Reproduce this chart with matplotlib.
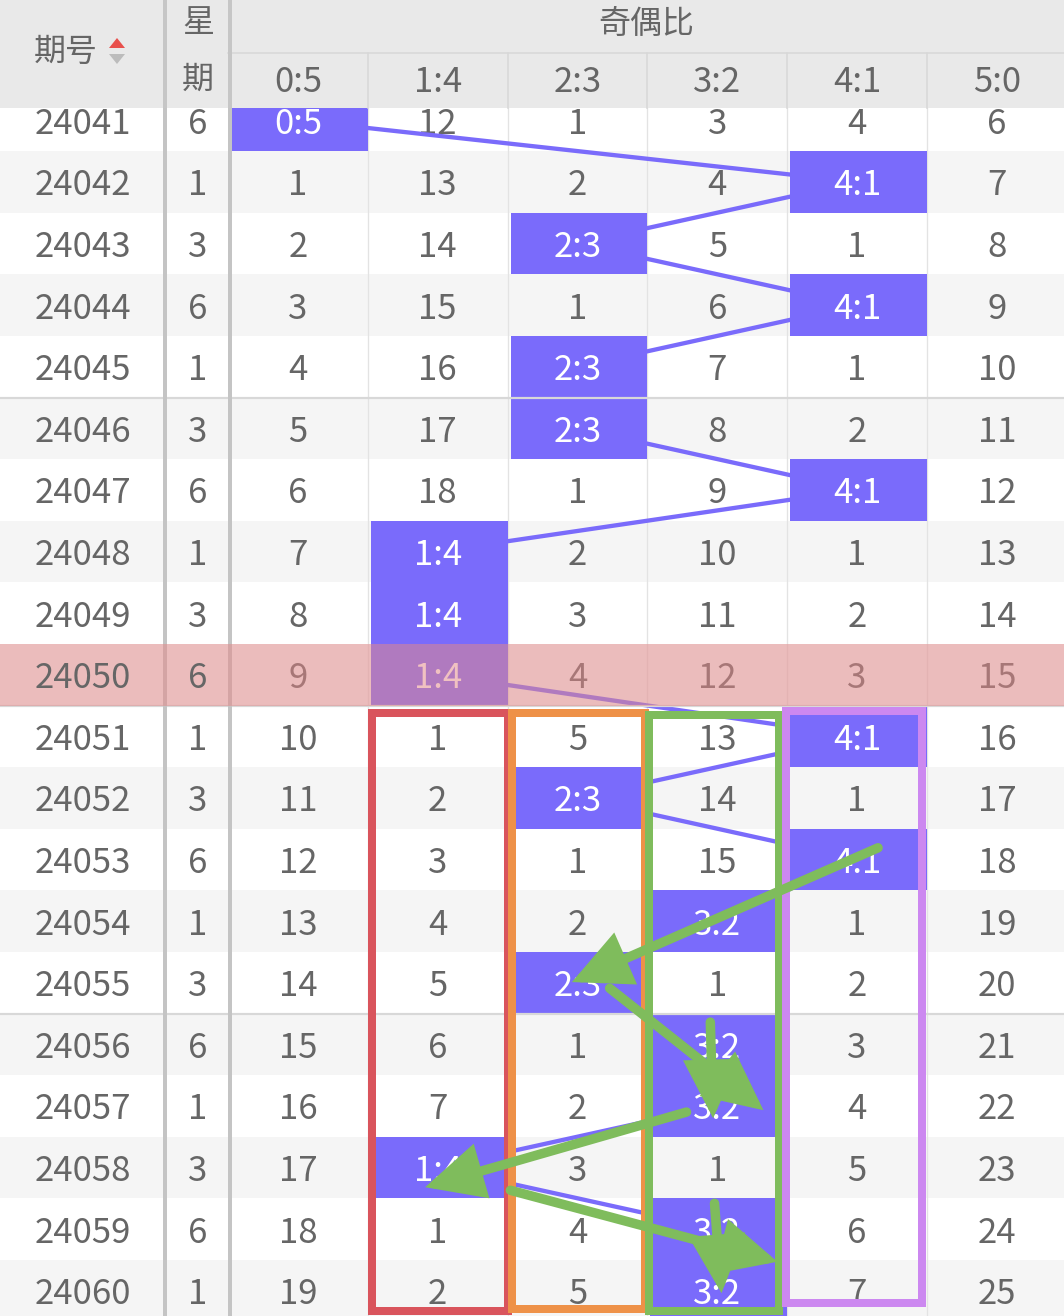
import matplotlib
matplotlib.use('Agg')
import matplotlib.pyplot as plt
from matplotlib.patches import Rectangle, Polygon, FancyArrowPatch, ArrowStyle

plt.rcParams['font.family'] = ['Noto Sans CJK SC', 'DejaVu Sans']
plt.rcParams['font.weight'] = 'light'

# ---------------- data ----------------
issues = [24041, 24042, 24043, 24044, 24045, 24046, 24047, 24048, 24049, 24050,
          24051, 24052, 24053, 24054, 24055, 24056, 24057, 24058, 24059, 24060]
weekdays = [6, 1, 3, 6, 1, 3, 6, 1, 3, 6, 1, 3, 6, 1, 3, 6, 1, 3, 6, 1]
ratios = ['0:5', '1:4', '2:3', '3:2', '4:1', '5:0']
# index of the ratio column that was hit in each issue
hits = [0, 4, 2, 4, 2, 2, 4, 1, 1, 1, 4, 2, 4, 3, 2, 3, 3, 1, 3, 3]
# omission counts per column (None = hit)
miss_05 = [None, 1, 2, 3, 4, 5, 6, 7, 8, 9, 10, 11, 12, 13, 14, 15, 16, 17, 18, 19]
miss_14 = [12, 13, 14, 15, 16, 17, 18, None, None, None, 1, 2, 3, 4, 5, 6, 7, None, 1, 2]
miss_23 = [1, 2, None, 1, None, None, 1, 2, 3, 4, 5, None, 1, 2, None, 1, 2, 3, 4, 5]
miss_32 = [3, 4, 5, 6, 7, 8, 9, 10, 11, 12, 13, 14, 15, None, 1, None, None, 1, None, None]
miss_41 = [4, None, 1, None, 1, 2, None, 1, 2, 3, None, 1, None, 1, 2, 3, 4, 5, 6, 7]
miss_50 = [6, 7, 8, 9, 10, 11, 12, 13, 14, 15, 16, 17, 18, 19, 20, 21, 22, 23, 24, 25]
miss_cols = [miss_05, miss_14, miss_23, miss_32, miss_41, miss_50]
highlight_issue = 24050
group_title = '奇偶比'

# hand-drawn annotations: boxed columns (ratio index) and green arrows (col, row)
ann_cols = ['1:4', '2:3', '3:2', '4:1']
ann_from, ann_to = 24051, 24060
ann_arrows = [((4.15, 11.81), (1.96, 13.99)),
              ((2.23, 14.09), (3.33, 16.07)),
              ((2.95, 14.64), (2.97, 16.20)),
              ((2.78, 16.10), (0.91, 17.32)),
              ((1.52, 17.37), (3.43, 18.53)),
              ((2.98, 17.58), (3.03, 19.04))]

# ---------------- layout / style ----------------
W, H = 1064, 1316
HEAD1, HEAD = 52.5, 108
ROW_TOP0, ROW_H = 89.5, 61.6
COL_X0, COL_W = 228, 139.8
ISSUE_CX, WEEK_CX = 83, 198
DIVIDERS = [(163, 4), (228, 4)]
BLUE = '#7a6bfb'
TXT = '#666666'
ANN_COLORS = ['#d9545c', '#ee9148', '#7fbc5c', '#cc88f0']
ANN_INSET = [(4, 0, 7.5, 11), (4, -2, 7.5, 13), (2, -8, 9.5, 11), (-1, -5, 5.5, 19)]
GREEN = '#7fbc5c'

fig = plt.figure(figsize=(W / 100, H / 100), dpi=100)
ax = fig.add_axes([0, 0, 1, 1])
ax.set_xlim(0, W)
ax.set_ylim(H, 0)
ax.axis('off')

px = 72 / 100  # points per pixel


def col_left(c):
    return COL_X0 + COL_W * c


def col_cx(c):
    return COL_X0 + COL_W * (c + 0.5)


def row_top(r):
    return ROW_TOP0 + ROW_H * r


def row_cy(r):
    return ROW_TOP0 + ROW_H * (r + 0.5)


FS = 25
DIG_OFF = 13.5

n = len(issues)
# row backgrounds
for r in range(n):
    fc = '#f5f5f5' if r % 2 == 1 else '#ffffff'
    ax.add_patch(Rectangle((0, row_top(r)), W, ROW_H, facecolor=fc, edgecolor='none', zorder=0))

# vertical grid lines in data area
for c in range(1, len(ratios)):
    ax.plot([col_left(c)] * 2, [HEAD, H], color='#e3e3e3', lw=1.3 * px, zorder=1)

# 5-row separators
for r in range(5, n, 5):
    ax.plot([0, W], [row_top(r)] * 2, color='#d8d8d8', lw=2.2 * px, zorder=4.5)

# miss numbers
for c, col in enumerate(miss_cols):
    for r, v in enumerate(col):
        if v is not None:
            ax.text(col_cx(c), row_cy(r) + DIG_OFF, str(v), ha='center', va='baseline',
                    fontsize=FS, color=TXT, zorder=2)

# connecting line
ax.plot([col_cx(h) for h in hits], [row_cy(r) for r in range(n)], color=BLUE,
        lw=4.3 * px, zorder=3, solid_capstyle='butt')

# hit boxes
for r, h in enumerate(hits):
    ax.add_patch(Rectangle((col_left(h) + 3, row_top(r)), COL_W - 3, ROW_H,
                           facecolor=BLUE, edgecolor='none', zorder=4))
    ax.text(col_cx(h), row_cy(r) + DIG_OFF, ratios[h], ha='center', va='baseline',
            fontsize=FS, color='white', zorder=5)

# dividers
for x, w in DIVIDERS:
    ax.add_patch(Rectangle((x, 0), w, H, facecolor='#c4c4c4', edgecolor='none', zorder=5.5))

# highlight row overlay
hr = issues.index(highlight_issue)
ax.add_patch(Rectangle((0, row_top(hr)), W, ROW_H, facecolor=(227 / 255, 136 / 255, 136 / 255),
                       alpha=0.52, edgecolor='none', zorder=6))

# issue and weekday text
for r in range(n):
    ax.text(ISSUE_CX, row_cy(r) + DIG_OFF, str(issues[r]), ha='center', va='baseline',
            fontsize=FS, color=TXT, zorder=7)
    ax.text(WEEK_CX, row_cy(r) + DIG_OFF, str(weekdays[r]), ha='center', va='baseline',
            fontsize=FS, color=TXT, zorder=7)

# annotation rectangles
r0, r1 = issues.index(ann_from), issues.index(ann_to)
for name, colr, (il, ir, it, ib) in zip(ann_cols, ANN_COLORS, ANN_INSET):
    c = ratios.index(name)
    x0 = col_left(c) + il
    x1 = col_left(c + 1) + ir
    y0 = row_top(r0) + it
    y1 = row_top(r1 + 1) - ib
    ax.add_patch(Rectangle((x0, y0), x1 - x0, y1 - y0, fill=False, edgecolor=colr,
                           lw=8 * px, joinstyle='miter', zorder=8))

# green arrows
style = ArrowStyle('-|>', head_length=31, head_width=15)
for (c0, rr0), (c1, rr1) in ann_arrows:
    ar = FancyArrowPatch((col_cx(c0), row_cy(rr0)), (col_cx(c1), row_cy(rr1)),
                         arrowstyle=style, mutation_scale=1, shrinkA=0, shrinkB=0,
                         color=GREEN, lw=9.5 * px, capstyle='round', joinstyle='miter', zorder=9)
    ax.add_patch(ar)

# ---------------- header ----------------
ax.add_patch(Rectangle((0, 0), W, HEAD, facecolor='#e9e9e9', edgecolor='none', zorder=10))
ax.plot([col_left(0), W], [HEAD1, HEAD1], color='#d8d8d8', lw=1.6 * px, zorder=11)
for c in range(1, len(ratios)):
    ax.plot([col_left(c)] * 2, [HEAD1, HEAD], color='#d8d8d8', lw=1.6 * px, zorder=11)
for x, w in DIVIDERS:
    ax.add_patch(Rectangle((x, 0), w, HEAD, facecolor='#c6c6c6', edgecolor='none', zorder=11))

HFS = 23
ax.text(66, 52, '期号', ha='center', va='center', fontsize=HFS, color=TXT, zorder=12)
ax.add_patch(Polygon([[109, 48], [125, 48], [117, 38]], closed=True, facecolor='#e8504c',
                     edgecolor='none', zorder=12))
ax.add_patch(Polygon([[109, 54], [125, 54], [117, 64]], closed=True, facecolor='#bcbcbc',
                     edgecolor='none', zorder=12))
ax.text(WEEK_CX, 23, '星', ha='center', va='center', fontsize=HFS, color=TXT, zorder=12)
ax.text(WEEK_CX, 80, '期', ha='center', va='center', fontsize=HFS, color=TXT, zorder=12)
ax.text((col_left(0) + W) / 2, 24, group_title, ha='center', va='center', fontsize=HFS,
        color=TXT, zorder=12)
for c, name in enumerate(ratios):
    ax.text(col_cx(c), 78 + DIG_OFF, name, ha='center', va='baseline', fontsize=FS,
            color=TXT, zorder=12)

fig.savefig('out.png', dpi=100)
